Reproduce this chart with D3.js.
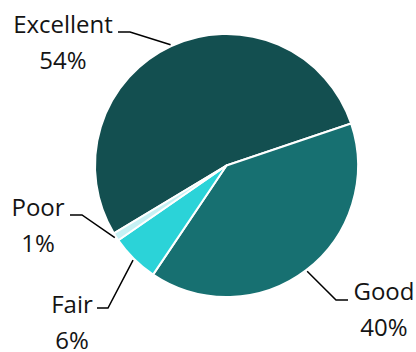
<!DOCTYPE html>
<html>
<head>
<meta charset="utf-8">
<script src="https://cdn.jsdelivr.net/npm/d3@7/dist/d3.min.js"></script>
<style>
  html, body { margin: 0; padding: 0; background: #fff; }
  svg { display: block; }
  text { font-family: "Open Sans", "Noto Sans", sans-serif; fill: #141414; }
</style>
</head>
<body>
<svg id="chart" width="416" height="352"></svg>
<script>
// Ratings share (percent)
const categories = ["Excellent", "Good", "Fair", "Poor"];
const values = [54, 40, 6, 1];
const colors = ["#134f50", "#177071", "#2bd3d8", "#c6f1f4"];

// Label placement: text centre, first baseline, and leader-line elbow
const labelLayout = {
  Excellent: { x: 63,  y: 33,  elbow: [130, 32],  end: [118, 32] },
  Good:      { x: 384, y: 300, elbow: [336, 300], end: [348, 300] },
  Fair:      { x: 72,  y: 313, elbow: [108, 308], end: [97, 308] },
  Poor:      { x: 38,  y: 216, elbow: [82, 215],  end: [70, 215] }
};

const svg = d3.select("#chart");
const cx = 226.5, cy = 165.5, radius = 131.5;
const startDeg = -121.1;

const pie = d3.pie()
  .sort(null)
  .value(d => d.value)
  .startAngle(startDeg * Math.PI / 180)
  .endAngle(startDeg * Math.PI / 180 + 2 * Math.PI);

const data = categories.map((c, i) => ({ name: c, value: values[i], color: colors[i] }));
const arcs = pie(data);
const arc = d3.arc().innerRadius(0).outerRadius(radius);

const g = svg.append("g").attr("transform", `translate(${cx},${cy})`);

g.selectAll("path.slice")
  .data(arcs)
  .join("path")
  .attr("class", "slice")
  .attr("d", arc)
  .attr("fill", d => d.data.color)
  .attr("stroke", "#fff")
  .attr("stroke-width", 2)
  .attr("stroke-linejoin", "round");

// Leader lines from the slice edge to the label
arcs.forEach(a => {
  const L = labelLayout[a.data.name];
  const mid = (a.startAngle + a.endAngle) / 2;
  const r = radius + 1.5;
  const sx = cx + r * Math.sin(mid);
  const sy = cy - r * Math.cos(mid);
  svg.append("polyline")
    .attr("points", [[sx, sy], L.elbow, L.end].map(p => p.join(",")).join(" "))
    .attr("fill", "none")
    .attr("stroke", "#000")
    .attr("stroke-width", 1.5);

  const t = svg.append("text")
    .attr("text-anchor", "middle")
    .attr("font-size", 24);
  t.append("tspan").attr("x", L.x).attr("y", L.y).text(a.data.name);
  t.append("tspan").attr("x", L.x).attr("y", L.y + 35.5)
    .text(Math.round(a.data.value) + "%");
});
</script>
</body>
</html>
